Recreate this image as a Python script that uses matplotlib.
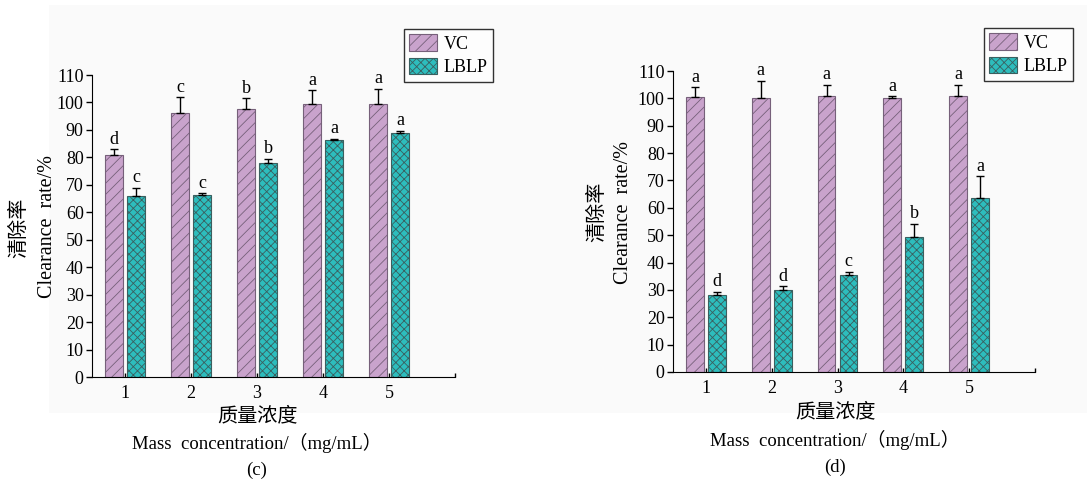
import matplotlib.pyplot as plt
from matplotlib.patches import Rectangle

plt.rcParams['font.family'] = ['Liberation Serif', 'Noto Sans CJK SC']
plt.rcParams['hatch.linewidth'] = 0.6

groups = [1, 2, 3, 4, 5]
series = ['VC', 'LBLP']

# panel (c)
vc_c = [81.0, 96.0, 97.5, 99.5, 99.5]
vc_c_err = [2.0, 6.0, 4.0, 5.0, 5.5]
lblp_c = [66.0, 66.3, 77.8, 86.5, 88.8]
lblp_c_err = [3.0, 0.7, 1.7, 0.3, 0.9]
vc_c_sig = ['d', 'c', 'b', 'a', 'a']
lblp_c_sig = ['c', 'c', 'b', 'a', 'a']

# panel (d)
vc_d = [100.5, 100.0, 101.0, 100.3, 100.8]
vc_d_err = [3.5, 6.5, 4.0, 0.4, 4.2]
lblp_d = [28.2, 30.0, 35.3, 49.5, 63.5]
lblp_d_err = [1.1, 1.3, 1.3, 4.7, 8.0]
vc_d_sig = ['a', 'a', 'a', 'a', 'a']
lblp_d_sig = ['d', 'd', 'c', 'b', 'a']

W, H = 1087, 484
vc_color = '#c9a3cc'
lblp_color = '#2dbdbd'


def px(x, y):
    return x / W, 1 - y / H


def draw_panel(ax, vc, vc_err, lblp, lblp_err, vc_sig, lblp_sig):
    ax.set_facecolor('none')
    off = 0.167
    w = 0.27
    xs_vc = [g - off for g in groups]
    xs_lb = [g + off for g in groups]
    b1 = ax.bar(xs_vc, vc, w, color=vc_color, edgecolor='#76607a', linewidth=0.8,
                hatch='///', label=series[0])
    b2 = ax.bar(xs_lb, lblp, w, color=lblp_color, edgecolor='#3a5f5f', linewidth=0.8,
                hatch='xxxx', label=series[1])
    ax.errorbar(xs_vc, vc, yerr=[[0] * 5, vc_err], fmt='none', ecolor='black',
                elinewidth=1.0, capsize=3, capthick=1.0)
    ax.errorbar(xs_lb, lblp, yerr=[[0] * 5, lblp_err], fmt='none', ecolor='black',
                elinewidth=1.0, capsize=3, capthick=1.0)
    for x, v, e, s in zip(xs_vc, vc, vc_err, vc_sig):
        ax.text(x, v + e + 0.5, s, ha='center', va='bottom', fontsize=13)
    for x, v, e, s in zip(xs_lb, lblp, lblp_err, lblp_sig):
        ax.text(x, v + e + 0.5, s, ha='center', va='bottom', fontsize=13)
    ax.set_xlim(0.5, 6.0)
    ax.set_ylim(0, 110)
    ax.set_yticks(range(0, 111, 10))
    ax.set_xticks([1, 2, 3, 4, 5, 6])
    ax.set_xticklabels(['1', '2', '3', '4', '5', ''])
    ax.tick_params(axis='y', direction='out', length=4, width=1, labelsize=13, pad=2)
    ax.tick_params(axis='x', direction='in', length=3, width=1, labelsize=13, pad=6)
    ax.spines['top'].set_visible(False)
    ax.spines['right'].set_visible(False)
    return b1, b2


fig = plt.figure(figsize=(W / 100, H / 100), dpi=100)
fig.add_artist(Rectangle(px(49, 413), (W - 49) / W, 408 / H, transform=fig.transFigure,
                         facecolor='#fafafa', edgecolor='none', zorder=-5))

ax1 = fig.add_axes([92 / W, 1 - 377 / H, 363 / W, 302 / H])
ax2 = fig.add_axes([673 / W, 1 - 372 / H, 362 / W, 301 / H])

h1 = draw_panel(ax1, vc_c, vc_c_err, lblp_c, lblp_c_err, vc_c_sig, lblp_c_sig)
h2 = draw_panel(ax2, vc_d, vc_d_err, lblp_d, lblp_d_err, vc_d_sig, lblp_d_sig)

for handles, (lx, ly) in [(h1, (404, 29)), (h2, (984, 28))]:
    fig.legend(handles, series, loc='upper left', bbox_to_anchor=px(lx, ly),
               fontsize=13, frameon=True, fancybox=False, edgecolor='black',
               handlelength=1.5, handleheight=1.0, handletextpad=0.4,
               borderpad=0.3, labelspacing=0.3, borderaxespad=0)

# axis titles
for (cx, cy), (ex, ey), (mx, my), (zx, zy), (tx, ty), tag in [
        ((20, 228), (47, 226), (257, 417), (257, 443), (257, 470), '(c)'),
        ((598, 212), (623, 212), (835, 413), (835, 440), (835, 467), '(d)')]:
    fig.text(*px(cx, cy), '清除率', rotation=90, ha='center', va='center', fontsize=14.5)
    fig.text(*px(ex, ey), 'Clearance  rate/%', rotation=90, ha='center', va='center',
             fontsize=14.5)
    fig.text(*px(mx, my), '质量浓度', ha='center', va='center', fontsize=14.5)
    fig.text(*px(zx, zy), 'Mass  concentration/（mg/mL）', ha='center', va='center',
             fontsize=13.5)
    fig.text(*px(tx, ty), tag, ha='center', va='center', fontsize=13.5)

fig.savefig('out.png', dpi=100)
